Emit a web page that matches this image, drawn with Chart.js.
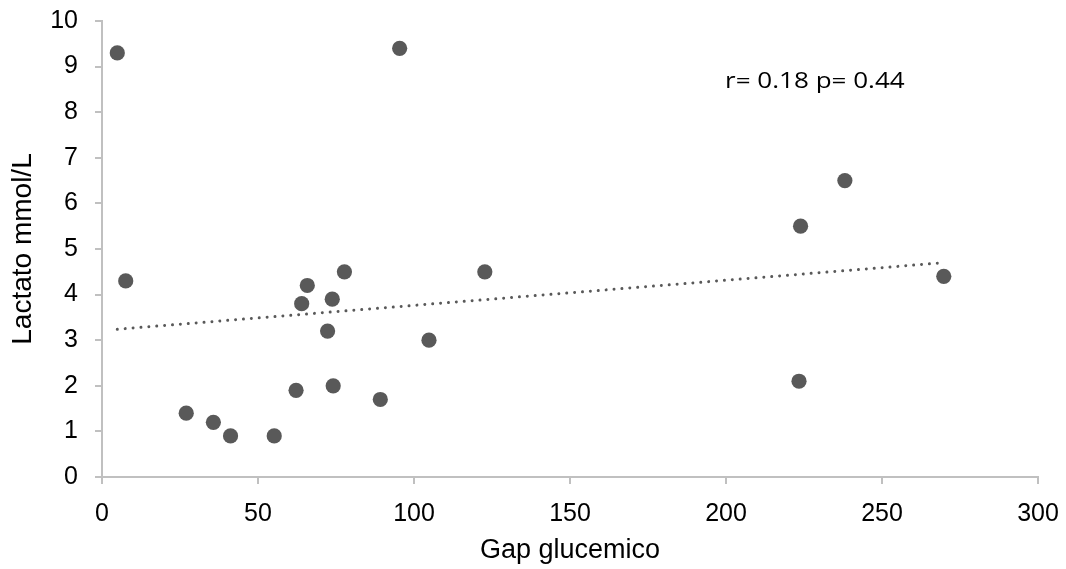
<!DOCTYPE html>
<html>
<head>
<meta charset="utf-8">
<script src="https://cdn.jsdelivr.net/npm/chart.js@4.4.0/dist/chart.umd.min.js"></script>
<style>
html,body{margin:0;padding:0;background:#fff;}
#wrap{width:1066px;height:569px;}
</style>
</head>
<body>
<div id="wrap"><canvas id="c" width="1066" height="569"></canvas></div>
<script>
const gapGlucemico = [4.9, 7.6, 95.4, 27.0, 35.7, 41.2, 55.2, 62.2, 64.0, 65.8, 72.3, 73.8, 74.1, 77.7, 89.2, 104.8, 122.7, 223.9, 238.1, 223.4, 269.8];
const lactato      = [9.3, 4.3, 9.4, 1.4, 1.2, 0.9, 0.9, 1.9, 3.8, 4.2, 3.2, 3.9, 2.0, 4.5, 1.7, 3.0, 4.5, 5.5, 6.5, 2.1, 4.4];
const trendX = [4.9, 269.8];
const trendY = [3.24, 4.70];
const xTicks = [0, 50, 100, 150, 200, 250, 300];
const yTicks = [0, 1, 2, 3, 4, 5, 6, 7, 8, 9, 10];
const annotationText = "r= 0.18 p= 0.44";

const points = gapGlucemico.map((x, i) => ({x: x, y: lactato[i]}));
const trend = trendX.map((x, i) => ({x: x, y: trendY[i]}));

const annot = {
  id: 'annot',
  afterDatasetsDraw(chart) {
    const ctx = chart.ctx;
    const xs = chart.scales.x, ys = chart.scales.y;
    const px = xs.getPixelForValue(199.7), py = ys.getPixelForValue(8.53);
    ctx.save();
    ctx.translate(px, py);
    ctx.scale(1.24, 1);
    ctx.font = '21px "Open Sans", "Noto Sans", sans-serif';
    ctx.fillStyle = '#000';
    ctx.textAlign = 'left';
    ctx.textBaseline = 'alphabetic';
    ctx.fillText(annotationText, 0, 0);
    ctx.restore();
  }
};

const noPad = (s) => { s.paddingTop = 0; s.paddingBottom = 0; s.paddingLeft = 0; s.paddingRight = 0; };

new Chart(document.getElementById('c'), {
  type: 'scatter',
  data: {
    datasets: [
      {
        data: points,
        backgroundColor: '#595959',
        borderColor: '#595959',
        pointRadius: 7.6,
        pointHoverRadius: 7.6,
        borderWidth: 0
      },
      {
        type: 'line',
        data: trend,
        borderColor: '#595959',
        borderWidth: 3,
        borderDash: [0.01, 7.9],
        borderCapStyle: 'round',
        pointRadius: 0,
        fill: false,
        showLine: true
      }
    ]
  },
  options: {
    responsive: false,
    animation: false,
    events: [],
    layout: {padding: {top: 21, right: 28, left: 0, bottom: 0}},
    plugins: {legend: {display: false}, tooltip: {enabled: false}},
    scales: {
      x: {
        type: 'linear',
        min: 0, max: 300,
        afterBuildTicks: (s) => { s.ticks = xTicks.map(v => ({value: v})); },
        afterFit: (s) => { s.height = 92; noPad(s); },
        border: {color: '#c0c0c0', width: 2},
        grid: {display: true, drawOnChartArea: false, drawTicks: true, tickLength: 7, color: '#c0c0c0', lineWidth: 2},
        ticks: {color: '#000', font: {family: 'Liberation Sans, Arial, sans-serif', size: 25}, padding: 15, maxRotation: 0},
        title: {display: true, text: 'Gap glucemico', color: '#000', font: {family: 'Liberation Sans, Arial, sans-serif', size: 27}, padding: {top: 0, bottom: 2}}
      },
      y: {
        type: 'linear',
        min: 0, max: 10,
        afterBuildTicks: (s) => { s.ticks = yTicks.map(v => ({value: v})); },
        afterFit: (s) => { s.width = 102; noPad(s); },
        border: {color: '#c0c0c0', width: 2},
        grid: {display: true, drawOnChartArea: false, drawTicks: true, tickLength: 7, color: '#c0c0c0', lineWidth: 2},
        ticks: {color: '#000', font: {family: 'Liberation Sans, Arial, sans-serif', size: 25}, padding: 17},
        title: {display: true, text: 'Lactato mmol/L', color: '#000', font: {family: 'Liberation Sans, Arial, sans-serif', size: 28}, padding: {top: 6, bottom: 0}}
      }
    }
  },
  plugins: [annot]
});
</script>
</body>
</html>
